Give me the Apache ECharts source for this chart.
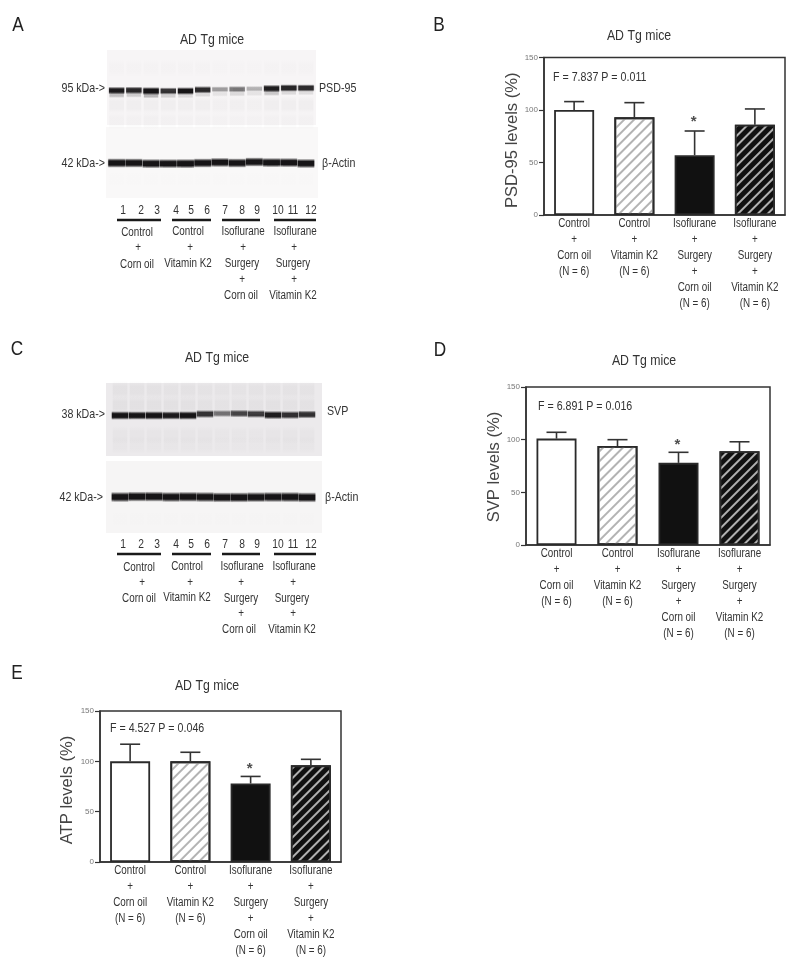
<!DOCTYPE html>
<html><head><meta charset="utf-8">
<style>html,body{margin:0;padding:0;background:#fff}#c{width:800px;height:974px}</style>
<script src="https://cdn.jsdelivr.net/npm/echarts@6/dist/echarts.min.js"></script>
</head><body><div id="c"></div>
<script>
// ---- data ----
const groups = [
  'Control\n+\nCorn oil\n(N = 6)',
  'Control\n+\nVitamin K2\n(N = 6)',
  'Isoflurane\n+\nSurgery\n+\nCorn oil\n(N = 6)',
  'Isoflurane\n+\nSurgery\n+\nVitamin K2\n(N = 6)'
];
const yTicks = [0, 50, 100, 150];
const psdMean = [100, 93, 57, 86];
const psdUpper = [108, 107, 80, 101];
const psdStar = [null, null, 91, null];
const svpMean = [101, 94, 78, 89];
const svpUpper = [107, 100, 88, 98];
const svpStar = [null, null, 97, null];
const atpMean = [100, 100, 78, 96];
const atpUpper = [117, 109, 85, 102];
const atpStar = [null, null, 95, null];
const lanes = [1,2,3,4,5,6,7,8,9,10,11,12];
// western blot band densities per lane (0-1) and migration (px from strip top)
const psdBand = [.92,.85,.98,.8,.95,.85,.35,.5,.28,.9,.85,.82];
const psdMigr = [40.5,40.3,41,41,41,39.8,39.3,39.2,38.8,38.5,38,38];
const psdDoublet = [.24,.18,.28,.16,.12,.12,.08,.12,.08,.2,.12,.1];
const actinABand = [1,.97,1,.95,1,.96,.98,.97,.95,.97,.96,1];
const actinAMigr = [36,36,36.6,36.6,36.6,36,35.4,36,35,35.6,35.6,36.4];
const svpBand = [1,.95,1,.92,1,.78,.5,.7,.75,.9,.8,.8];
const svpMigr = [32.5,32.5,32.5,32.5,32.5,31,30.5,30.5,31,32,32,31.5];
const actinCBand = [1,.98,1,.97,1,1,.98,1,1,.98,1,1];
const actinCMigr = [36,35.6,35.6,36,35.8,36,36.4,36.4,36.2,36,36,36.4];
// ---- layout ----
const FONT = '"Liberation Sans",sans-serif';
const NARROW = .82;
const INK = '#333';
const charts = [
  {name:'PSD-95 levels (%)', mean:psdMean, upper:psdUpper, star:psdStar, grid:{left:544,top:57.5,width:241,height:157.5}, gap:22, shift:8},
  {name:'SVP levels (%)', mean:svpMean, upper:svpUpper, star:svpStar, grid:{left:526,top:387,width:244,height:158}, gap:22, shift:2},
  {name:'ATP levels (%)', mean:atpMean, upper:atpUpper, star:atpStar, grid:{left:100,top:711,width:241,height:151}, gap:24, shift:7}
];
const blots = [
  {band:psdBand, migr:psdMigr, doublet:psdDoublet, smear:[[18,.01],[55,.03],[71,.02]], grid:{left:107,top:50,width:209,height:75}, range:[.44,12.58], bg:'#f7f5f6', frac:.9},
  {band:actinABand, migr:actinAMigr, smear:[[52,.005]], grid:{left:106,top:127,width:212,height:71}, range:[.38,12.7], bg:'#f9f8f8', thick:1.2, frac:.98},
  {band:svpBand, migr:svpMigr, smear:[[7,.035],[22,.04],[52,.022],[62,.018]], grid:{left:106,top:383,width:216,height:73}, range:[.176,12.88], bg:'#eceaec', frac:.97, thick:1.1},
  {band:actinCBand, migr:actinCMigr, smear:[[58,.005]], grid:{left:106,top:461,width:216,height:72}, range:[.176,12.88], bg:'#f6f5f5', thick:1.3, frac:.99}
];
const hatch = (color,on,off) => ({symbol:'rect', dashArrayX:[1,0], dashArrayY:[on,off], rotation:-Math.PI/4, color, symbolSize:1});
const barStyles = [
  {color:'#fff'},
  {color:'#fff', decal:hatch('#b3b3b3',1.4,4.6)},
  {color:'#111'},
  {color:'#111', decal:hatch('#b0b0b0',1.5,4.5)}
];
const grid=[], xAxis=[], yAxis=[], series=[];
charts.forEach((c,i)=>{
  grid.push({...c.grid, show:true, borderColor:INK, borderWidth:1.5, backgroundColor:'transparent'});
  xAxis.push({gridIndex:i, type:'category', data:groups, axisTick:{show:false},
    axisLine:{lineStyle:{color:INK,width:1.5}}, axisLabel:{show:false}});
  yAxis.push({gridIndex:i, type:'value', min:yTicks[0], max:yTicks[3], interval:50, splitLine:{show:false},
    axisLine:{show:true, lineStyle:{color:INK,width:1.5}},
    axisTick:{show:true,length:5,lineStyle:{color:INK,width:1.2}},
    axisLabel:{color:'#777',fontFamily:FONT,fontSize:8,margin:6},
    name:c.name, nameLocation:'middle', nameGap:c.gap,
    nameTextStyle:{color:'#444',fontFamily:FONT,fontSize:16.6,padding:[0,c.shift,0,0]}});
  series.push({type:'custom', xAxisIndex:i, yAxisIndex:i, z:2, silent:true,
    data:c.mean.map((m,k)=>[k,m,c.upper[k]]),
    encode:{x:0,y:[1,2]},
    renderItem:(p,api)=>{
      const a=api.coord([api.value(0),api.value(1)]), b=api.coord([api.value(0),api.value(2)]);
      const st={stroke:INK,lineWidth:1.6,fill:null};
      return {type:'group',children:[
        {type:'line',shape:{x1:a[0],y1:a[1],x2:b[0],y2:b[1]},style:st},
        {type:'line',shape:{x1:a[0]-10,y1:b[1],x2:a[0]+10,y2:b[1]},style:st}]};
    }});
  series.push({type:'bar', xAxisIndex:i, yAxisIndex:i, z:3, barWidth:40, silent:true,
    data:c.mean.map((m,k)=>({value:m,itemStyle:{...barStyles[k],borderColor:'#2a2a2a',borderWidth:1.8}}))});
  series.push({type:'scatter', xAxisIndex:i, yAxisIndex:i, z:4, symbolSize:1, itemStyle:{color:'transparent'}, silent:true,
    data:c.star.map((s,k)=>[k,s]).filter(d=>d[1]!==null),
    label:{show:true,position:'inside',formatter:'*',color:'#222',fontFamily:FONT,fontWeight:'bold',fontSize:15,offset:[-1,2]}});
  // category labels (narrow lettering, drawn at the axis positions)
  series.push({type:'custom', xAxisIndex:i, yAxisIndex:i, z:5, silent:true,
    data:groups.map((g,k)=>[k,0]), encode:{x:0,y:1},
    renderItem:(p,api)=>{
      const q=api.coord([api.value(0),0]);
      return {type:'text',x:q[0],y:q[1]+1,scaleX:NARROW,
        style:{text:groups[api.value(0)],fill:INK,fontFamily:FONT,fontSize:12,lineHeight:16,align:'center',verticalAlign:'top'}};
    }});
});
const bandGrad=(alpha)=>({type:'linear',x:0,y:0,x2:0,y2:1,colorStops:[
  {offset:0,color:'rgba(22,20,22,0)'},{offset:.3,color:`rgba(22,20,22,${alpha})`},
  {offset:.7,color:`rgba(22,20,22,${alpha})`},{offset:1,color:'rgba(22,20,22,0)'}]});
const laneShape=(api,frac,h)=>{
  const p=api.coord([api.value(0),api.value(1)]), w=api.size([1,0])[0]*frac;
  return {x:p[0]-w/2,y:p[1]-h/2,width:w,height:h};
};
blots.forEach((b,j)=>{
  const i=charts.length+j;
  grid.push({...b.grid, show:true, borderWidth:0, backgroundColor:b.bg});
  xAxis.push({gridIndex:i,type:'value',min:b.range[0],max:b.range[1],show:false});
  yAxis.push({gridIndex:i,type:'value',min:0,max:b.grid.height,inverse:true,show:false});
  series.push({type:'custom',xAxisIndex:i,yAxisIndex:i,silent:true,z:1,
    data:b.smear.flatMap(([pos,lv])=>lanes.map((l,k)=>[l,pos,lv*(b.band[k]*.5+.6)])),
    renderItem:(p,api)=>({type:'rect',shape:laneShape(api,.86,18),style:{fill:bandGrad(api.value(2))}})});
  if(b.doublet) series.push({type:'custom',xAxisIndex:i,yAxisIndex:i,silent:true,z:2,
    data:lanes.map((l,k)=>[l,b.migr[k]+4.5,b.doublet[k]]),
    renderItem:(p,api)=>({type:'rect',shape:laneShape(api,.84,6),style:{fill:bandGrad(api.value(2))}})});
  series.push({type:'custom',xAxisIndex:i,yAxisIndex:i,silent:true,z:3,
    data:lanes.map((l,k)=>[l,b.migr[k],b.band[k]]),
    renderItem:(p,api)=>{
      const lv=api.value(2), h=(5+3*lv)*(b.thick||1);
      return {type:'rect',shape:laneShape(api,b.frac,h),style:{fill:bandGrad(Math.min(1,lv*1.05)),shadowBlur:1.5,shadowColor:`rgba(22,20,22,${lv*.35})`}};
    }});
});
// ---- texts ----
const T=(text,x,y,o={})=>({type:'text',x,y,scaleX:NARROW,silent:true,style:{text,fill:o.fill||INK,fontFamily:FONT,fontSize:o.size||12,align:o.align||'center',verticalAlign:'middle'}});
const gfx=[];
[['A',18,25],['B',439,25],['C',17,349],['D',440,350],['E',17,673]].forEach(a=>gfx.push(T(a[0],a[1],a[2],{size:21,fill:'#222'})));
[[212,40],[639,36],[217,358],[644,361],[207,686]].forEach(a=>gfx.push(T('AD Tg mice',a[0],a[1],{size:15})));
[['F = 7.837 P = 0.011',553,77],['F = 6.891 P = 0.016',538,406],['F = 4.527 P = 0.046',110,728]].forEach(a=>gfx.push(T(a[0],a[1],a[2],{size:13,align:'left'})));
[['95 kDa->',105,88,'right'],['42 kDa->',105,163,'right'],['PSD-95',319,88,'left'],['β-Actin',322,163,'left'],
 ['38 kDa->',105,414,'right'],['42 kDa->',103,497,'right'],['SVP',327,411,'left'],['β-Actin',325,497,'left']
].forEach(a=>gfx.push(T(a[0],a[1],a[2],{size:13,align:a[3]})));
const laneX=[123,141,157,176,191,207,225,242,257,278,293,311];
[211,545].forEach(y=>lanes.forEach((l,k)=>gfx.push(T(String(l),laneX[k],y,{size:12.5}))));
[[220],[554]].forEach(([y])=>[[117,161],[172,211],[222,260],[274,316]].forEach(([a,b])=>gfx.push({type:'line',silent:true,shape:{x1:a,y1:y,x2:b,y2:y},style:{stroke:'#1a1a1a',lineWidth:2.4}})));
const legA=[[['Control',137,233],['+',138,248],['Corn oil',137,265]],
 [['Control',188,232],['+',190,248],['Vitamin K2',188,264]],
 [['Isoflurane',243,232],['+',243,248],['Surgery',242,264],['+',242,280],['Corn oil',241,296]],
 [['Isoflurane',295,232],['+',294,248],['Surgery',293,264],['+',294,280],['Vitamin K2',293,296]]];
const legC=[[['Control',139,568],['+',142,583],['Corn oil',139,599]],
 [['Control',187,567],['+',190,583],['Vitamin K2',187,598]],
 [['Isoflurane',242,567],['+',241,583],['Surgery',241,599],['+',241,614],['Corn oil',239,630]],
 [['Isoflurane',294,567],['+',293,583],['Surgery',292,599],['+',293,614],['Vitamin K2',292,630]]];
[legA,legC].forEach(L=>L.flat().forEach(a=>gfx.push(T(a[0],a[1],a[2],{size:12}))));

const chart=echarts.init(document.getElementById('c'),null,{renderer:'canvas'});
chart.setOption({animation:false,backgroundColor:'#fff',grid,xAxis,yAxis,series,graphic:{elements:gfx},tooltip:{show:false}});
</script></body></html>
